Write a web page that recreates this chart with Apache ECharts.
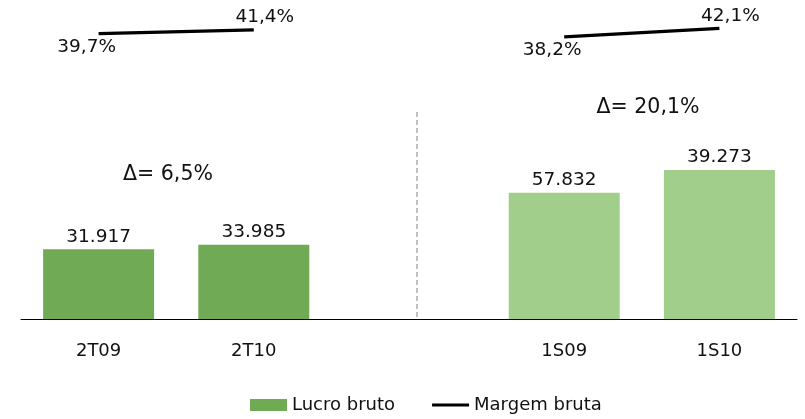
<!DOCTYPE html>
<html>
<head>
<meta charset="utf-8">
<script src="https://cdn.jsdelivr.net/npm/echarts@6/dist/echarts.min.js"></script>
<style>html,body{margin:0;padding:0;background:#fff}#c{width:805px;height:419px}</style>
</head>
<body>
<div id="c"></div>
<script>
// Data
var categories = ['2T09', '2T10', '', '1S09', '1S10'];
var lucroBruto = [31917, 33985, null, 57832, 68200];          // bar heights as drawn
var lucroLabels = ['31.917', '33.985', '', '57.832', '39.273']; // labels as printed
var margemBruta = [39.7, 41.4, null, 38.2, 42.1];
var margemLabels = ['39,7%', '41,4%', '', '38,2%', '42,1%'];
var deltaLabels = ['\u0394= 6,5%', '\u0394= 20,1%'];

var FONT = 'DejaVu Sans';
var DARK = '#70AA55';
var LIGHT = '#A2CE8C';
var TXT = '#111';

var chart = echarts.init(document.getElementById('c'), null, {renderer: 'canvas'});

var barData = lucroBruto.map(function (v, i) {
  if (v === null) return '-';
  return {value: v, itemStyle: {color: i < 2 ? DARK : LIGHT}};
});
var lineData = margemBruta.map(function (v, i) {
  if (v === null) return '-';
  var first = (i === 0 || i === 3);
  return {
    value: v,
    label: first
      ? {position: 'bottom', offset: [-12, 0], distance: 4}
      : {position: 'top', offset: [11, 0], distance: 3}
  };
});

chart.setOption({
  animation: false,
  textStyle: {fontFamily: FONT},
  grid: {left: 21, right: 8, top: 0, bottom: 100},
  legend: {
    bottom: 0,
    left: 245,
    itemWidth: 37,
    itemHeight: 12,
    itemGap: 37,
    textStyle: {fontFamily: FONT, fontSize: 18, color: TXT},
    data: [
      {name: 'Lucro bruto', icon: 'rect'},
      {name: 'Margem bruta', icon: 'path://M0 0H40V3.2H0Z'}
    ]
  },
  xAxis: {
    type: 'category',
    data: categories,
    boundaryGap: true,
    axisLine: {lineStyle: {color: '#000', width: 1}},
    axisTick: {show: false},
    axisLabel: {fontFamily: FONT, fontSize: 18, color: TXT, margin: 23}
  },
  yAxis: [
    {type: 'value', min: 0, max: 146000, show: false, splitLine: {show: false}},
    {type: 'value', min: -90, max: 55, show: false, splitLine: {show: false}}
  ],
  series: [
    {
      name: 'Lucro bruto',
      type: 'bar',
      barWidth: 111,
      itemStyle: {color: DARK},
      data: barData,
      label: {
        show: true,
        position: 'top',
        distance: 3,
        fontFamily: FONT,
        fontSize: 18.5,
        color: TXT,
        formatter: function (p) { return lucroLabels[p.dataIndex]; }
      }
    },
    {
      name: 'Margem bruta',
      type: 'line',
      yAxisIndex: 1,
      connectNulls: false,
      symbol: 'circle',
      symbolSize: 0.1,
      itemStyle: {color: '#000'},
      lineStyle: {color: '#000', width: 3.2},
      data: lineData,
      label: {
        show: true,
        fontFamily: FONT,
        fontSize: 18.5,
        color: TXT,
        formatter: function (p) { return margemLabels[p.dataIndex]; }
      }
    }
  ],
  graphic: [
    {
      type: 'line',
      shape: {x1: 417, y1: 112, x2: 417, y2: 319},
      style: {stroke: '#a0a0a0', lineWidth: 1.3, lineDash: [5, 3]}
    },
    {
      type: 'text',
      x: 168, y: 175,
      style: {text: deltaLabels[0], font: '20.5px "DejaVu Sans"', fill: TXT, textAlign: 'center', textVerticalAlign: 'middle'}
    },
    {
      type: 'text',
      x: 648, y: 108,
      style: {text: deltaLabels[1], font: '20.5px "DejaVu Sans"', fill: TXT, textAlign: 'center', textVerticalAlign: 'middle'}
    }
  ]
});
</script>
</body>
</html>
